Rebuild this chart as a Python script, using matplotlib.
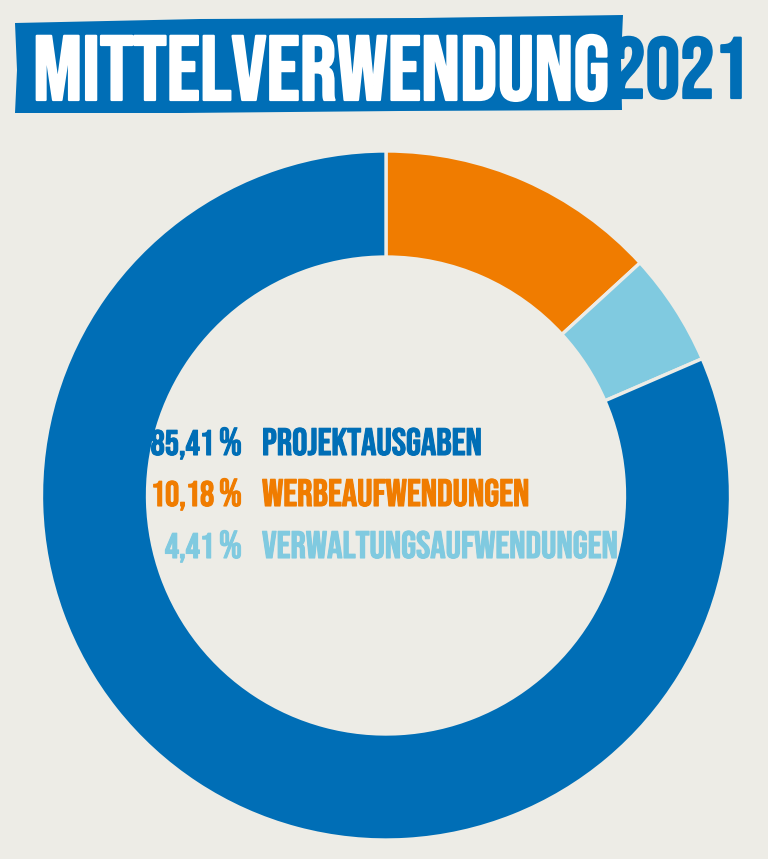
import matplotlib
matplotlib.use('Agg')
import matplotlib.pyplot as plt
from matplotlib.patches import Polygon
import matplotlib.patheffects as pe

# Werte
kategorien = ['WERBEAUFWENDUNGEN', 'VERWALTUNGSAUFWENDUNGEN', 'PROJEKTAUSGABEN']
# Anteile so, wie die Segmente im Ring gezeichnet sind
anteile_ring = [13.2, 5.3, 81.5]
# Beschriftung in der Mitte (Reihenfolge wie im Bild)
label_namen = ['PROJEKTAUSGABEN', 'WERBEAUFWENDUNGEN', 'VERWALTUNGSAUFWENDUNGEN']
label_zahlen = ['85,41', '10,18', '4,41']

BG = '#edece6'
BLAU = '#006eb6'
ORANGE = '#f07c00'
HELLBLAU = '#80cae0'
ring_farben = [ORANGE, HELLBLAU, BLAU]
label_farben = [BLAU, ORANGE, HELLBLAU]
FONT = ['Bebas Neue', 'DejaVu Sans']

W, H = 768, 859
fig = plt.figure(figsize=(W / 100, H / 100), dpi=100, facecolor=BG)
ax = fig.add_axes([0, 0, 1, 1])
ax.set_facecolor(BG)

# Ring (y-Achse umgedreht -> startangle -90 = oben, counterclock = im Uhrzeigersinn)
cx, cy, r = 386, 495.5, 344.5
ax.pie(anteile_ring, colors=ring_farben, startangle=-90, counterclock=True,
       center=(cx, cy), radius=r,
       wedgeprops=dict(width=106, edgecolor=BG, linewidth=2.4))

ax.set_xlim(0, W)
ax.set_ylim(H, 0)
ax.set_aspect('equal')
ax.axis('off')

# Titel-Banner
banner = Polygon([(15, 23), (200, 19), (420, 18), (623, 15), (621, 60),
                  (622, 110), (400, 111), (180, 113), (15, 113), (17, 70)],
                 closed=True, facecolor=BLAU, edgecolor='none')
ax.add_patch(banner)
ax.text(33, 100, 'MITTELVERWENDUNG', family=FONT, fontsize=66, color='white',
        ha='left', va='baseline',
        path_effects=[pe.withStroke(linewidth=1.6, foreground='white')])
ax.text(749, 98, '2021', family=FONT, fontsize=62, color=BLAU,
        ha='right', va='baseline',
        path_effects=[pe.withStroke(linewidth=1.6, foreground=BLAU)])

# Legende in der Mitte
renderer = fig.canvas.get_renderer()
baselines = [455, 506, 558]
for name, zahl, farbe, yb in zip(label_namen, label_zahlen, label_farben, baselines):
    stroke = [pe.withStroke(linewidth=0.8, foreground=farbe)]
    pct = ax.text(242, yb, '%', family=FONT, fontsize=28, color=farbe,
                  ha='right', va='baseline', path_effects=stroke)
    pct_w = pct.get_window_extent(renderer).width
    ax.text(242 - pct_w - 5, yb, zahl, family=FONT, fontsize=25.5, color=farbe,
            ha='right', va='baseline', path_effects=stroke)
    ax.text(262, yb, name, family=FONT, fontsize=27.5, color=farbe,
            ha='left', va='baseline', path_effects=stroke)

fig.savefig('out.png', dpi=100, facecolor=BG)
